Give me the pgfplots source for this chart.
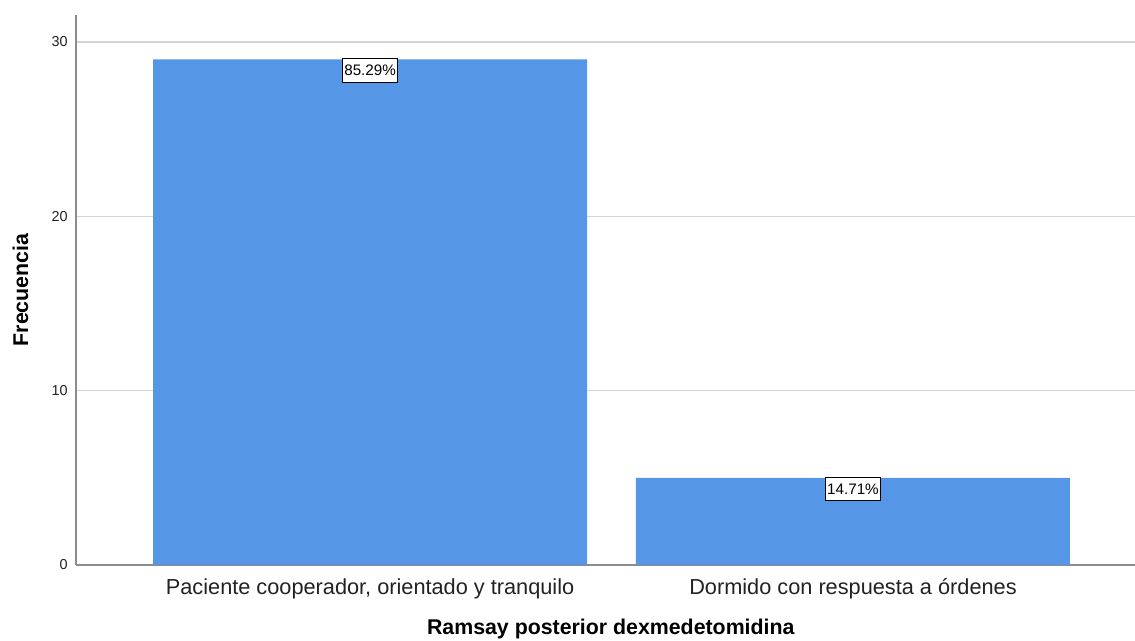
\documentclass[border=0pt]{standalone}
\usepackage{pgfplots}
\pgfplotsset{compat=1.18}
\usepackage{fontspec}
\setmainfont{Liberation Sans}
\definecolor{barblue}{HTML}{5596E6}
\definecolor{gridgray}{HTML}{D4D4D4}
\definecolor{axgray}{HTML}{8C8C8C}
\definecolor{txt}{HTML}{222222}
\begin{document}
\begin{tikzpicture}
\useasboundingbox (-57pt,-57pt) rectangle (794.25pt,423.75pt);
\begin{axis}[
  at={(0,0)}, anchor=south west, scale only axis,
  width=794.25pt, height=412.5pt,
  xmin=-0.609, xmax=1.584, ymin=0, ymax=31.55,
  axis lines=left, axis line style={-, axgray, line width=1.5pt},
  ybar, bar width=325.5pt,
  ytick={0,10,20,30}, xtick={0,1},
  xticklabels={{Paciente cooperador, orientado y tranquilo},{Dormido con respuesta a órdenes}},
  major tick length=0pt,
  ymajorgrids, grid style={gridgray, line width=1.1pt},
  /pgf/number format/assume math mode=true,
  yticklabel style={font=\fontsize{10.8}{13}\selectfont, text=txt, inner sep=0pt, anchor=east, xshift=-6pt},
  xticklabel style={font=\fontsize{16.3}{19}\selectfont, text=txt, anchor=base, yshift=-22.5pt},
  xlabel={Ramsay posterior dexmedetomidina}, ylabel={Frecuencia},
  every axis x label/.style={at={(axis description cs:0.505,-0.1255)}, anchor=base, font=\bfseries\fontsize{16}{19}\selectfont, text=black},
  every axis y label/.style={at={(axis description cs:-0.0453,0.5)}, rotate=90, anchor=base, font=\bfseries\fontsize{16}{19}\selectfont, text=black},
  nodes near coords={\pgfplotspointmeta}, point meta=explicit symbolic,
  every node near coord/.style={anchor=north, draw=black, fill=white, line width=0.75pt, inner xsep=1.5pt, inner ysep=4.8pt, font=\fontsize{11.4}{13}\selectfont, text=black, yshift=0.75pt},
]
\addplot[fill=barblue, draw=none] coordinates {(0,29) [85.29\%] (1,5) [14.71\%]};
\end{axis}
\end{tikzpicture}
\end{document}
